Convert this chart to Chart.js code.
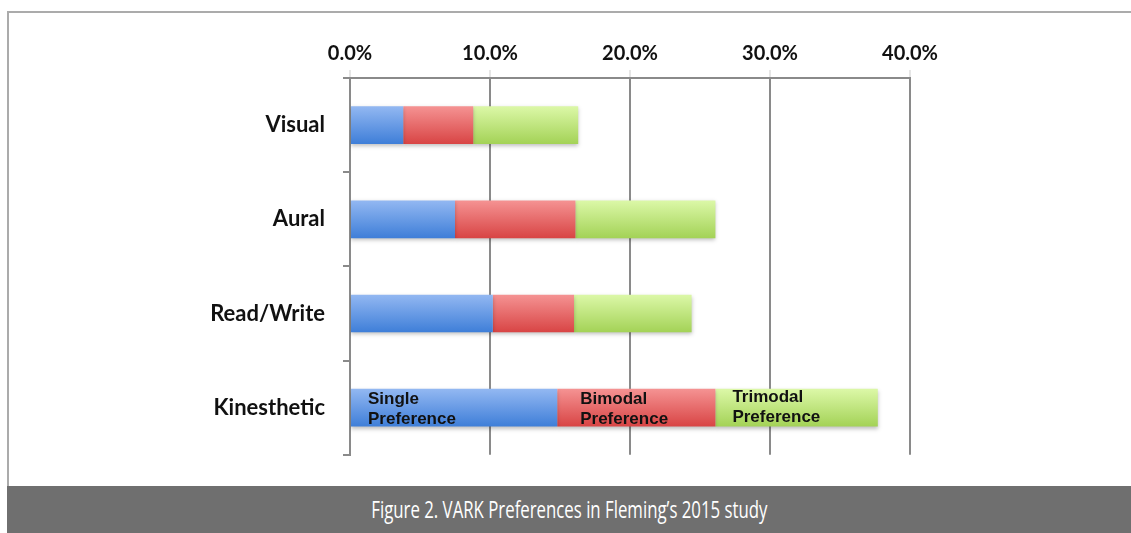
<!DOCTYPE html>
<html>
<head>
<meta charset="utf-8">
<script src="https://cdn.jsdelivr.net/npm/chart.js@4/dist/chart.umd.min.js"></script>
<style>
  html, body { margin: 0; padding: 0; background: #fff; }
  body { width: 1131px; height: 533px; position: relative; overflow: hidden; }
  #frame { position: absolute; left: 7px; top: 11px; width: 1124px; height: 475px;
           border-left: 2px solid #ababab; border-top: 2px solid #ababab; box-sizing: border-box; }
  #wrap { position: absolute; left: 0; top: 0; width: 1131px; height: 486px; }
  #caption { position: absolute; left: 7px; top: 486px; width: 1124px; height: 47px;
             background: #6f6f6f; color: #fff; text-align: center; }
  #caption span { display: inline-block; transform: scaleX(0.73); transform-origin: center;
             font-family: "Open Sans", "DejaVu Sans", sans-serif; white-space: nowrap;
             font-size: 23px; line-height: 47px; }
</style>
</head>
<body>
<div id="frame"></div>
<div id="wrap"><canvas id="varkChart"></canvas></div>
<div id="caption"><span>Figure 2. VARK Preferences in Fleming’s 2015 study</span></div>
<script>
const categories = ['Visual', 'Aural', 'Read/Write', 'Kinesthetic'];
const singlePref = [3.8, 7.5, 10.2, 14.8];
const bimodalPref = [5.0, 8.6, 5.8, 11.3];
const trimodalPref = [7.5, 10.0, 8.4, 11.6];
const xTicks = [0, 10, 20, 30, 40];
const seriesNames = ['Single Preference', 'Bimodal Preference', 'Trimodal Preference'];

const barHalf = 19;

function gradientFill(top, bottom) {
  return function (ctx) {
    const chart = ctx.chart;
    if (!chart.chartArea || ctx.dataIndex === undefined) return bottom;
    const y = chart.scales.y.getPixelForValue(ctx.dataIndex);
    const g = chart.ctx.createLinearGradient(0, y - barHalf, 0, y + barHalf);
    g.addColorStop(0, top);
    g.addColorStop(1, bottom);
    return g;
  };
}

// labels written inside the last bar
const insideLabels = {
  id: 'insideLabels',
  afterDatasetsDraw(chart) {
    const ctx = chart.ctx;
    const idx = categories.length - 1;
    const offsets = [17, 23, 17];
    const shift = [0, 0, -2];
    ctx.save();
    ctx.fillStyle = '#111';
    ctx.font = 'bold 17px "Liberation Sans", Arial, sans-serif';
    ctx.textBaseline = 'alphabetic';
    chart.data.datasets.forEach((ds, i) => {
      const bar = chart.getDatasetMeta(i).data[idx];
      const x0 = Math.min(bar.base, bar.x) + offsets[i];
      const words = seriesNames[i].split(' ');
      ctx.fillText(words[0], x0, bar.y - 4 + shift[i]);
      ctx.fillText(words[1], x0, bar.y + 16 + shift[i]);
    });
    ctx.restore();
  }
};

const barShadow = {
  id: 'barShadow',
  beforeDatasetsDraw(chart) {
    const ctx = chart.ctx;
    ctx.save();
    ctx.shadowColor = 'rgba(0,0,0,0.25)';
    ctx.shadowBlur = 4;
    ctx.shadowOffsetY = 2;
  },
  afterDatasetsDraw(chart) {
    chart.ctx.restore();
  }
};

document.addEventListener('DOMContentLoaded', () => {
  const ctx = document.getElementById('varkChart');
  new Chart(ctx, {
    type: 'bar',
    data: {
      labels: categories,
      datasets: [
        { label: seriesNames[0], data: singlePref,
          backgroundColor: gradientFill('#93b8f2', '#3e7ed8') },
        { label: seriesNames[1], data: bimodalPref,
          backgroundColor: gradientFill('#f59393', '#d84444') },
        { label: seriesNames[2], data: trimodalPref,
          backgroundColor: gradientFill('#dcf8a8', '#a3d256') }
      ]
    },
    options: {
      indexAxis: 'y',
      responsive: true,
      maintainAspectRatio: false,
      animation: false,
      barPercentage: 0.4,
      categoryPercentage: 1,
      layout: { padding: { left: 0, right: 221, top: 0, bottom: 28 } },
      plugins: { legend: { display: false }, tooltip: { enabled: false } },
      scales: {
        x: {
          position: 'top',
          stacked: true,
          min: 0, max: 40,
          afterBuildTicks: (scale) => { scale.ticks = xTicks.map(v => ({ value: v })); },
          afterFit: (scale) => { scale.height = 78; },
          ticks: {
            color: '#111',
            font: { family: 'Lato', weight: 'bold', size: 20 },
            padding: 4,
            callback: (v) => v.toFixed(1) + '%'
          },
          grid: { color: '#8a8a8a', lineWidth: 2, tickLength: 8, tickColor: '#e6e6e6' },
          border: { color: '#8a8a8a', width: 2 }
        },
        y: {
          stacked: true,
          afterFit: (scale) => { scale.width = 350; },
          ticks: {
            color: '#111',
            font: { family: 'Lato', weight: 'bold', size: 22 },
            padding: 18
          },
          grid: { offset: true, drawOnChartArea: false, color: '#8a8a8a', lineWidth: 2, tickLength: 7 },
          border: { color: '#8a8a8a', width: 2 }
        }
      }
    },
    plugins: [barShadow, insideLabels]
  });
});
</script>
</body>
</html>
